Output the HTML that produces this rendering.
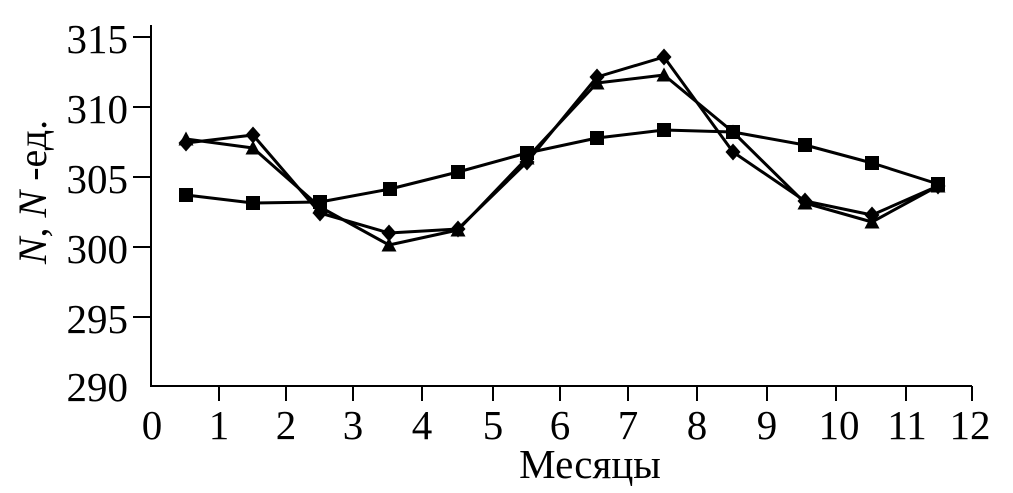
<!DOCTYPE html>
<html><head><meta charset="utf-8"><style>
html,body{margin:0;padding:0;background:#fff;}
svg{display:block;}
text{font-family:"Liberation Serif",serif;fill:#000;}
</style></head><body>
<svg width="1013" height="493" viewBox="0 0 1013 493" xmlns="http://www.w3.org/2000/svg">
<defs>
<rect id="sq" x="-7" y="-7" width="14" height="14" fill="#000"/>
<polygon id="dm" points="0,-8.5 7.5,0 0,8.5 -7.5,0" fill="#000"/>
<polygon id="tr" points="0,-7.5 7.5,6.5 -7.5,6.5" fill="#000"/>
</defs>
<!-- axes -->
<g stroke="#000" stroke-width="2" fill="none">
<line x1="151" y1="25" x2="151" y2="386"/>
<line x1="150" y1="386" x2="972" y2="386"/>
<line x1="133" y1="37" x2="151" y2="37"/>
<line x1="133" y1="107" x2="151" y2="107"/>
<line x1="133" y1="177" x2="151" y2="177"/>
<line x1="133" y1="247" x2="151" y2="247"/>
<line x1="133" y1="317" x2="151" y2="317"/>
<line x1="219" y1="386" x2="219" y2="401"/>
<line x1="286" y1="386" x2="286" y2="401"/>
<line x1="353" y1="386" x2="353" y2="401"/>
<line x1="422" y1="386" x2="422" y2="401"/>
<line x1="493" y1="386" x2="493" y2="401"/>
<line x1="560" y1="386" x2="560" y2="401"/>
<line x1="628" y1="386" x2="628" y2="401"/>
<line x1="697" y1="386" x2="697" y2="401"/>
<line x1="767" y1="386" x2="767" y2="401"/>
<line x1="836" y1="386" x2="836" y2="401"/>
<line x1="906" y1="386" x2="906" y2="401"/>
<line x1="972" y1="386" x2="972" y2="401"/>
</g>
<!-- y tick labels -->
<g font-size="41" text-anchor="end">
<text x="128" y="53">315</text>
<text x="128" y="123">310</text>
<text x="128" y="193">305</text>
<text x="128" y="263">300</text>
<text x="128" y="333">295</text>
<text x="128" y="401">290</text>
</g>
<!-- x tick labels -->
<g font-size="41" text-anchor="middle">
<text x="152" y="439">0</text>
<text x="219" y="439">1</text>
<text x="286" y="439">2</text>
<text x="353" y="439">3</text>
<text x="422" y="439">4</text>
<text x="493" y="439">5</text>
<text x="560" y="439">6</text>
<text x="628" y="439">7</text>
<text x="697" y="439">8</text>
<text x="767" y="439">9</text>
<text x="839" y="439">10</text>
<text x="907" y="439">11</text>
<text x="970" y="439">12</text>
</g>
<text x="590" y="478" font-size="41" text-anchor="middle">Месяцы</text>
<text transform="translate(46,192) rotate(-90)" font-size="40" text-anchor="middle"><tspan font-style="italic">N</tspan>, <tspan font-style="italic">N</tspan> -ед.</text>
<!-- series lines -->
<g fill="none" stroke="#000" stroke-width="3" stroke-linejoin="round">
<polyline points="186,195 253,203 320,202 390,189 458,172 527,153 597,138 664,130 733,132 805,145 872,163 938,184"/>
<polyline points="186,143 253,135 320,213 389,233 458,229 527,162 597,77 664,57 733,152 805,201 872,215 938,186"/>
<polyline points="186,139 253,148 320,207 389,245 458,230 527,158 597,83 664,75 733,132 805,203 872,222 938,186"/>
</g>
<!-- markers -->
<g>
<use href="#sq" x="186" y="195"/><use href="#sq" x="253" y="203"/><use href="#sq" x="320" y="202"/><use href="#sq" x="390" y="189"/><use href="#sq" x="458" y="172"/><use href="#sq" x="527" y="153"/><use href="#sq" x="597" y="138"/><use href="#sq" x="664" y="130"/><use href="#sq" x="733" y="132"/><use href="#sq" x="805" y="145"/><use href="#sq" x="872" y="163"/><use href="#sq" x="938" y="184"/>
<use href="#dm" x="186" y="143"/><use href="#dm" x="253" y="135"/><use href="#dm" x="320" y="213"/><use href="#dm" x="389" y="233"/><use href="#dm" x="458" y="229"/><use href="#dm" x="527" y="162"/><use href="#dm" x="597" y="77"/><use href="#dm" x="664" y="57"/><use href="#dm" x="733" y="152"/><use href="#dm" x="805" y="201"/><use href="#dm" x="872" y="215"/><use href="#dm" x="938" y="186"/>
<use href="#tr" x="186" y="139"/><use href="#tr" x="253" y="148"/><use href="#tr" x="320" y="207"/><use href="#tr" x="389" y="245"/><use href="#tr" x="458" y="230"/><use href="#tr" x="527" y="158"/><use href="#tr" x="597" y="83"/><use href="#tr" x="664" y="75"/><use href="#tr" x="733" y="132"/><use href="#tr" x="805" y="203"/><use href="#tr" x="872" y="222"/><use href="#tr" x="938" y="186"/>
</g>
</svg>
</body></html>
